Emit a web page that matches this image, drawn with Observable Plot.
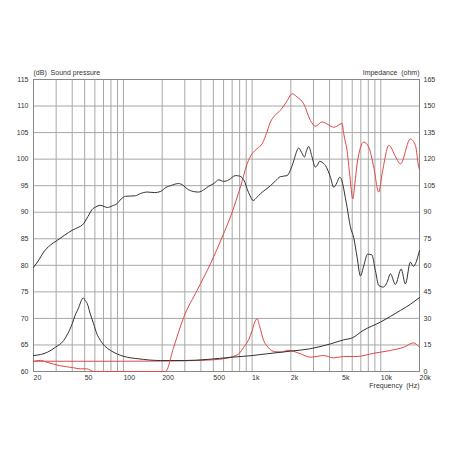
<!DOCTYPE html>
<html>
<head>
<meta charset="utf-8">
<script src="https://cdn.jsdelivr.net/npm/d3@7"></script>
<script src="https://cdn.jsdelivr.net/npm/@observablehq/plot@0.6"></script>
<style>
  html, body { margin: 0; padding: 0; background: #fff; }
</style>
</head>
<body>
<div id="chart"></div>
<script>
// Woofer (black) sound pressure, dB
const wooferSplFreq = [20,22,24,27,30.6,35,40,45,48,53,57,61,66,75,82,89,96,104,124,135,153,175,194,215,232,268,290,313,350,383,420,460,504,551,602,660,742,800,837,880,914,960,1019,1090,1161,1280,1389,1520,1660,1871,1990,2108,2200,2303,2420,2553,2650,2755,2900,3105,3200,3355,3500,3716,4063,4310,4550,4798,4950,5153,5300,5477,5636,5800,6165,6549,6951,7372,7900,8500,9085,9650,10484,11200,11885,13000,14400,15541,16988,17900,20000];
const wooferSpl     = [79.6,81,82.5,83.8,84.7,85.7,86.6,87.2,87.6,89.2,90.5,91.0,91.3,90.9,91.2,91.6,92.5,93.0,93.1,93.5,93.8,93.7,93.9,94.7,95.0,95.4,95.1,94.4,93.9,93.8,94.2,94.9,95.4,96.1,95.8,96.1,96.9,96.8,96.5,95.6,94.4,93.2,92.2,92.8,93.5,94.3,95.0,95.9,96.7,96.9,98.0,99.7,101.2,102.1,101.3,100.4,101.6,102.4,100.7,98.5,98.8,99.6,99.4,98.8,96.6,94.7,95.5,96.6,96.2,94.4,92.8,90.9,89.0,87.3,85.2,81.5,78,79.9,82.1,82.0,79,76.2,75.9,76.8,78.4,76.4,79.3,76.5,80.6,79.8,82.8];

// Tweeter (red) sound pressure, dB (bottom of the chart at 60 dB)
const tweeterSplFreq = [20,22.7,25,28.6,32,36.2,41,46.2,52.2,58.6,80,100,150,212,246,294,374,475,585,700,810,935,1000,1095,1197,1300,1389,1500,1660,1850,2047,2239,2520,2838,3105,3501,3900,4310,5008,5153,5477,5800,6050,6300,6549,7372,8050,8817,9640,10250,11570,13070,14217,16988,18584,19735,20000];
const tweeterSpl     = [61.9,62.1,61.8,61.4,61.1,60.9,60.7,60.5,60.5,60.0,60,60,60,60,64.6,70.2,75.3,80.3,85.3,90,94.7,99.7,101,102,102.9,105,107,108.2,109.2,110.8,112.3,111.7,110.4,107.3,106.2,107,106.5,106,106.7,104.8,101.5,96,92.5,95.5,99.1,103.2,102.3,98.5,93.8,97.3,102.6,100.4,99.1,103.8,102.6,98.5,98];

// Woofer (black) impedance, ohm
const wooferZFreq = [20,25.7,29.6,34.3,37,40,42,45,47,48.7,50,52.4,55,58.6,62,66.3,72,79.3,90,101,130,194,300,447,700,1000,1300,1990,2800,4063,5153,6000,7300,9935,14217,17000,20000];
const wooferZ     = [9.0,10.9,13.7,17.5,21.5,27,31.5,36.3,40,41.6,40.5,38.3,33,27,21.5,17.5,14.2,11.9,9.8,8.5,7.2,6.2,6.2,6.8,8.1,9.0,10,11.5,12.8,15.6,17.9,19,23.2,27.9,34.5,38,41.8];

// Tweeter (red) impedance, ohm
const tweeterZFreq = [20,100,200,400,600,700,800,860,940,1000,1050,1095,1140,1230,1330,1500,1700,1900,2000,2375,2838,3600,4310,5153,6549,8817,11885,15077,18030,19735,20000];
const tweeterZ     = [5.8,5.8,5.9,6.3,7.2,8.3,10.5,13.7,18,23,28,29.8,26,17.5,13.7,11.2,11,12,11.8,10,8.1,9,7.7,8.5,8.5,10.3,11.9,13.7,16.2,14.1,13.8];

// Axis ticks and labels
const freqTicks  = [20,50,100,200,500,1000,2000,5000,10000,20000];
const freqLabels = ["20","50","100","200","500","1k","2k","5k","10k","20k"];
const freqGrid   = [30,40,50,60,70,80,90,100,200,300,400,500,600,700,800,900,1000,2000,3000,4000,5000,6000,7000,8000,9000,10000];
const dbTicks    = [60,65,70,75,80,85,90,95,100,105,110,115];
const ohmLabels  = ["0","15","30","45","60","75","90","105","120","135","150","165"];

const zip = (f, v) => f.map((x, i) => ({f: x, v: v[i]}));
const wooferSplData  = zip(wooferSplFreq, wooferSpl);
const tweeterSplData = zip(tweeterSplFreq, tweeterSpl);
const wooferZData    = zip(wooferZFreq, wooferZ);
const tweeterZData   = zip(tweeterZFreq, tweeterZ);
const freqTickData   = zip(freqTicks, freqLabels);

// impedance scale: 0..165 ohm on 60..115 dB
const zToDb = z => 60 + z / 3;
const ohmLabelMap  = new Map(dbTicks.map((t, i) => [t, ohmLabels[i]]));

const black = "#333333";
const red = "#e04848";
const grid = "#a8a8a8";
const ink = "#333333";

const chart = Plot.plot({
  width: 452,
  height: 452,
  marginLeft: 33,
  marginRight: 33,
  marginTop: 79,
  marginBottom: 81,
  x: {type: "log", domain: [20, 20000], axis: null},
  y: {domain: [60, 115], axis: null},
  style: {fontFamily: "'Liberation Sans', Arial, sans-serif", fontSize: "7px", color: ink, background: "#fff"},
  marks: [
    Plot.ruleX(freqGrid, {stroke: grid, strokeWidth: 1}),
    Plot.ruleY(dbTicks, {stroke: grid, strokeWidth: 1}),
    Plot.frame({stroke: "#888", strokeWidth: 1}),
    Plot.line(tweeterZData, {x: "f", y: d => zToDb(d.v), stroke: red, strokeWidth: 1, curve: "monotone-x"}),
    Plot.line(wooferZData, {x: "f", y: d => zToDb(d.v), stroke: black, strokeWidth: 1, curve: "monotone-x"}),
    Plot.line(tweeterSplData, {x: "f", y: "v", stroke: red, strokeWidth: 1, curve: "monotone-x"}),
    Plot.line(wooferSplData, {x: "f", y: "v", stroke: black, strokeWidth: 1, curve: "monotone-x"}),
    Plot.text(freqTickData, {x: "f", frameAnchor: "bottom", text: "v", textAnchor: "start", dy: 8, fill: ink, fontSize: 7}),
    Plot.axisY(dbTicks, {anchor: "left", tickSize: 0, tickPadding: 5, label: null, fontSize: 7, fill: ink}),
    Plot.axisY(dbTicks, {anchor: "right", tickSize: 0, tickPadding: 4, textAnchor: "start", tickFormat: d => ohmLabelMap.get(d), label: null, fontSize: 7, fill: ink}),
    Plot.text(["(dB)\u00a0\u00a0Sound pressure"], {frameAnchor: "top-left", textAnchor: "start", dy: -9, fontSize: 7, fill: ink}),
    Plot.text(["Impedance\u00a0\u00a0(ohm)"], {frameAnchor: "top-right", textAnchor: "end", dy: -9, fontSize: 7, fill: ink}),
    Plot.text(["Frequency\u00a0\u00a0(Hz)"], {frameAnchor: "bottom-right", textAnchor: "end", dy: 16, fontSize: 7, fill: ink})
  ]
});
document.getElementById("chart").appendChild(chart);
</script>
</body>
</html>
